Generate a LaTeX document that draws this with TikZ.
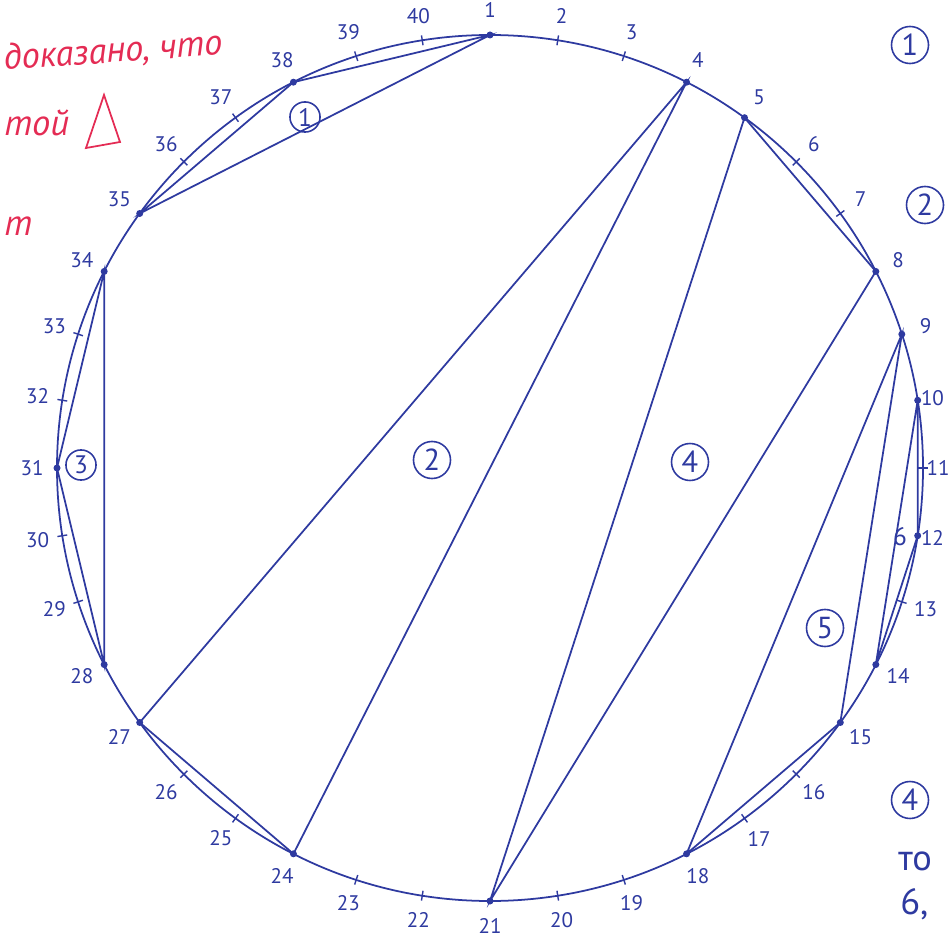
\documentclass[tikz,border=0pt]{standalone}
\usepackage{fontspec}
\setmainfont{PT Sans}
\usetikzlibrary{calc}
\definecolor{ink}{RGB}{46,58,160}
\definecolor{redink}{RGB}{228,44,84}

\begin{document}
\begin{tikzpicture}[x=0.02cm, y=0.02cm,
  rim/.style={ink, line width=1pt},
  chord/.style={ink, line width=1pt},
  num/.style={ink, font=\large, inner sep=1pt},
  tri/.style={ink, circle, draw, line width=0.9pt, inner sep=2pt, font=\LARGE},
  trismall/.style={tri, inner sep=1.5pt, font=\Large},
  note/.style={redink, font=\huge\itshape, anchor=base west, inner sep=0pt},
  margin/.style={ink, font=\huge, anchor=base west, inner sep=0pt}]
\useasboundingbox (0,0) rectangle (949,944);
\coordinate (c) at (490,476);
\draw[rim] (c) circle (433);
% the 40 points, their numbers and ticks
\foreach \k in {1,...,9,13,14,...,40} {
  \coordinate (p\k) at ($(c)+({90-9*(\k-1)}:433)$);
  \node[num] (n\k) at ($(c)+({90-9*(\k-1)}:458)$) {\k};
}
\foreach \k in {10,11,12} {
  \coordinate (p\k) at ($(c)+({90-9*(\k-1)}:433)$);
  \node[num] (n\k) at ($(c)+({90-9*(\k-1)}:448)$) {\k};
}
\foreach \k in {2,3,6,7,11,13,16,17,19,20,22,23,25,26,29,30,32,33,36,37,39,40}
  \draw[ink, line width=0.8pt] ($(c)+({90-9*(\k-1)}:428)$) -- ($(c)+({90-9*(\k-1)}:438)$);
\foreach \k in {1,4,5,8,9,10,12,14,15,18,21,24,27,28,31,34,35,38}
  \fill[ink] (p\k) circle (3.5);
% triangles
\draw[chord] (p1) -- (p35) -- (p38) -- cycle;
\draw[chord] (p4) -- (p27) -- (p24) -- cycle;
\draw[chord] (p28) -- (p31) -- (p34) -- cycle;
\draw[chord] (p5) -- (p21) -- (p8) -- cycle;
\draw[chord] (p9) -- (p18) -- (p15) -- cycle;
\draw[chord] (p10) -- (p14) -- (p12) -- cycle;
\node[trismall] (t1) at (305,827) {1};
\node[tri] (t2) at (432,484) {2};
\node[trismall] (t3) at (81,479) {3};
\node[tri] (t4) at (690,482) {4};
\node[tri] (t5) at (825,316) {5};
\node[ink, font=\Large] (t6) at (900,407) {6};
% red notes on the left
\node[note, rotate=4] (r1) at (4,874) {доказано, что};
\node[note] (r2) at (4,808) {той};
\draw[redink, line width=1pt] (86,796) -- (104,849) -- (120,802) -- cycle;
\node[note] (r3) at (4,708) {т};
% notes on the right
\node[tri] (m1) at (910,899) {1};
\node[tri] (m2) at (925,739) {2};
\node[tri] (m4) at (910,144) {4};
\node[margin] (m5) at (898,74) {то};
\node[margin] (m6) at (900,30) {6,};
\end{tikzpicture}
\end{document}
